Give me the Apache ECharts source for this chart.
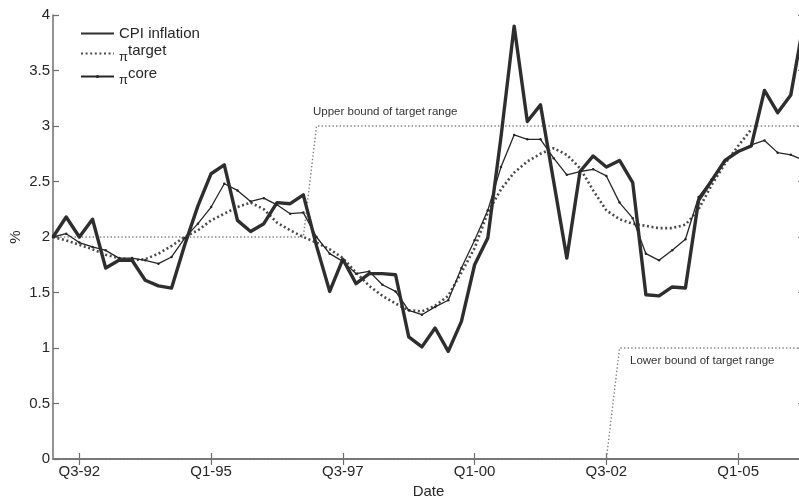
<!DOCTYPE html>
<html>
<head>
<meta charset="utf-8">
<script src="https://cdn.jsdelivr.net/npm/echarts@6/dist/echarts.min.js"></script>
<style>html,body{margin:0;padding:0;background:#fff;}#c{width:799px;height:496px;}</style>
</head>
<body>
<div id="c"></div>
<script>
// Quarters, Q1-92 .. Q2-06
var quarters = ['Q1-92','Q2-92','Q3-92','Q4-92','Q1-93','Q2-93','Q3-93','Q4-93','Q1-94','Q2-94',
  'Q3-94','Q4-94','Q1-95','Q2-95','Q3-95','Q4-95','Q1-96','Q2-96','Q3-96','Q4-96',
  'Q1-97','Q2-97','Q3-97','Q4-97','Q1-98','Q2-98','Q3-98','Q4-98','Q1-99','Q2-99',
  'Q3-99','Q4-99','Q1-00','Q2-00','Q3-00','Q4-00','Q1-01','Q2-01','Q3-01','Q4-01',
  'Q1-02','Q2-02','Q3-02','Q4-02','Q1-03','Q2-03','Q3-03','Q4-03','Q1-04','Q2-04',
  'Q3-04','Q4-04','Q1-05','Q2-05','Q3-05','Q4-05','Q1-06','Q2-06'];
var tickLabels = ['Q3-92','Q1-95','Q3-97','Q1-00','Q3-02','Q1-05'];

var cpi = [2.00,2.18,2.00,2.16,1.72,1.79,1.79,1.61,1.56,1.54,
  1.93,2.28,2.57,2.65,2.15,2.05,2.12,2.31,2.30,2.38,
  1.92,1.51,1.80,1.58,1.67,1.67,1.66,1.10,1.01,1.18,
  0.97,1.24,1.75,1.99,2.90,3.90,3.04,3.19,2.50,1.81,
  2.59,2.73,2.63,2.69,2.49,1.48,1.47,1.55,1.54,2.33,
  2.51,2.69,2.77,2.82,3.32,3.12,3.28,3.95];

var core = [2.00,2.03,1.95,1.91,1.88,1.81,1.81,1.79,1.76,1.82,
  1.99,2.12,2.27,2.48,2.42,2.32,2.35,2.29,2.21,2.22,
  2.00,1.85,1.78,1.67,1.69,1.57,1.51,1.34,1.30,1.37,
  1.43,1.72,1.97,2.24,2.63,2.92,2.88,2.88,2.71,2.56,
  2.59,2.61,2.55,2.31,2.17,1.85,1.79,1.88,1.98,2.36,
  2.52,2.68,2.77,2.83,2.87,2.76,2.74,2.69];

var target = [2.00,1.97,1.93,1.89,1.84,1.81,1.79,1.80,1.85,1.92,
  2.00,2.06,2.15,2.21,2.27,2.31,2.25,2.13,2.06,2.00,
  1.95,1.89,1.81,1.68,1.56,1.47,1.40,1.34,1.33,1.38,
  1.47,1.68,1.90,2.22,2.43,2.58,2.68,2.75,2.80,2.74,
  2.62,2.42,2.24,2.16,2.12,2.10,2.08,2.08,2.11,2.25,
  2.47,2.66,2.82,2.97];

var upperQ = ['Q1-92','Q4-96','Q1-97','Q2-06'];
var upperV = [2, 2, 3, 3];
var lowerQ = ['Q1-92','Q3-02','Q4-02','Q2-06'];
var lowerV = [0, 0, 1, 1];

var yTicks = [0, 0.5, 1, 1.5, 2, 2.5, 3, 3.5, 4];

var INK = '#262626';
var AX = '#6e6e6e';
var FONT = 'Liberation Sans, Arial, sans-serif';

function isTick(i) { return tickLabels.indexOf(quarters[i]) >= 0; }

var chart = echarts.init(document.getElementById('c'), null, {renderer: 'canvas'});
var xCommon = {
  type: 'category', data: quarters, boundaryGap: false,
  axisLine: {show: true, lineStyle: {color: AX, width: 1.5}},
  axisTick: {show: true, inside: true, length: 6, interval: function (i) { return isTick(i); }, lineStyle: {color: AX, width: 1.2}},
  splitLine: {show: false}
};
var yCommon = {
  type: 'value', min: yTicks[0], max: yTicks[yTicks.length - 1], interval: 0.5,
  axisLine: {show: true, lineStyle: {color: AX, width: 1.5}},
  axisTick: {show: true, inside: true, length: 6, lineStyle: {color: AX, width: 1.2}},
  splitLine: {show: false}
};
var option = {
  animation: false,
  backgroundColor: '#fff',
  grid: {left: 53, top: 15, width: 751, height: 444, containLabel: false, outerBoundsMode: 'none'},
  xAxis: [
    Object.assign({}, xCommon, {
      position: 'bottom',
      name: 'Date', nameLocation: 'middle', nameGap: 25,
      nameTextStyle: {color: INK, fontSize: 15, fontFamily: FONT},
      axisLabel: {show: true, interval: function (i) { return isTick(i); }, margin: 5, color: INK, fontSize: 15, fontFamily: FONT}
    }),
    Object.assign({}, xCommon, {position: 'top', axisLabel: {show: false}})
  ],
  yAxis: [
    Object.assign({}, yCommon, {
      position: 'left',
      name: '%', nameLocation: 'middle', nameGap: 30, nameRotate: 90, nameMoveOverlap: false,
      nameTextStyle: {color: INK, fontSize: 15, fontFamily: FONT},
      axisLabel: {show: true, margin: 3, color: INK, fontSize: 15, fontFamily: FONT}
    }),
    Object.assign({}, yCommon, {position: 'right', axisLabel: {show: false}})
  ],
  legend: {
    show: true, orient: 'vertical', left: 75, top: 21,
    itemWidth: 33, itemHeight: 4, itemGap: 2,
    data: [
      {name: 'CPI inflation', itemStyle: {opacity: 0}},
      {name: 'target', itemStyle: {opacity: 0}},
      {name: 'core'}
    ],
    formatter: function (name) {
      if (name === 'CPI inflation') return '{main|' + name + '}';
      return '{pi|π}{sup|' + name + '}';
    },
    textStyle: {
      color: INK, fontFamily: FONT,
      rich: {
        main: {fontSize: 15, fontFamily: FONT, color: INK, lineHeight: 19},
        pi: {fontSize: 13, fontFamily: FONT, color: INK, padding: [7, 0, 0, 0], lineHeight: 19},
        sup: {fontSize: 15, fontFamily: FONT, color: INK, padding: [0, 0, 6, 0], lineHeight: 19}
      }
    }
  },
  series: [
    {
      name: 'upper bound', type: 'line', xAxisIndex: 0, yAxisIndex: 0,
      data: upperQ.map(function (q, i) { return [q, upperV[i]]; }),
      symbol: 'none', silent: true,
      lineStyle: {color: '#808080', width: 1.4, type: [1.4, 2.2]}
    },
    {
      name: 'lower bound', type: 'line', xAxisIndex: 0, yAxisIndex: 0,
      data: lowerQ.map(function (q, i) { return [q, lowerV[i]]; }),
      symbol: 'none', silent: true,
      lineStyle: {color: '#808080', width: 1.4, type: [1.4, 2.2]}
    },
    {
      name: 'target', type: 'line', data: target, symbol: 'none',
      lineStyle: {color: '#4a4a4a', width: 2.6, type: [2, 2.6]},
      itemStyle: {color: '#4a4a4a'}
    },
    {
      name: 'core', type: 'line', data: core, symbol: 'circle', symbolSize: 2.5,
      lineStyle: {color: INK, width: 1.3}, itemStyle: {color: INK}
    },
    {
      name: 'CPI inflation', type: 'line', data: cpi, symbol: 'none',
      lineStyle: {color: '#2e2e2e', width: 3.4, join: 'round'}, itemStyle: {color: '#2e2e2e'}
    }
  ],
  graphic: [
    {type: 'text', left: 313, top: 106, style: {text: 'Upper bound of target range', fill: '#333', font: '11.5px ' + FONT}},
    {type: 'text', left: 630, top: 355, style: {text: 'Lower bound of target range', fill: '#333', font: '11.5px ' + FONT}}
  ]
};
chart.setOption(option);
</script>
</body>
</html>
